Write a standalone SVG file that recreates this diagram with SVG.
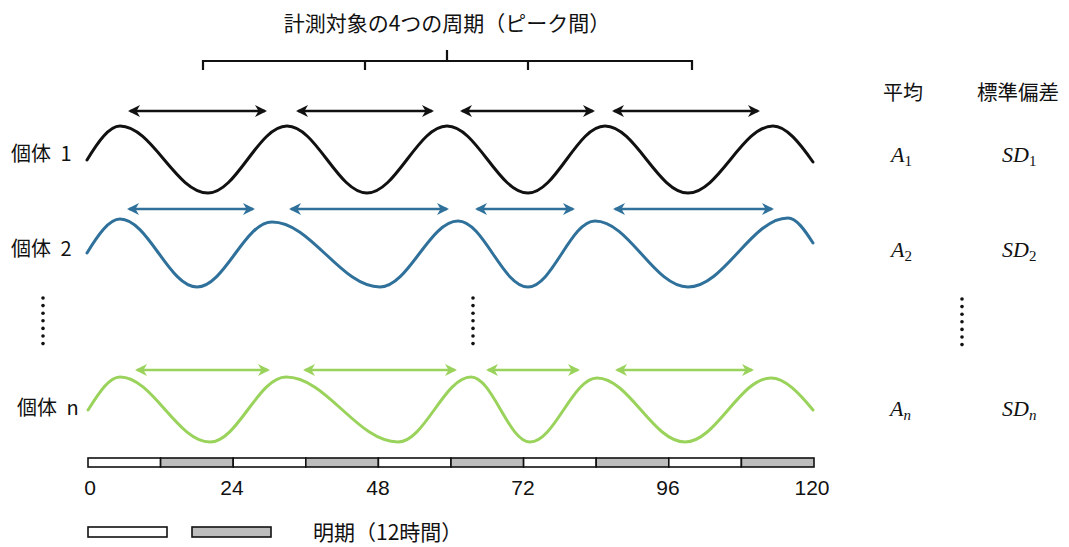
<svg xmlns="http://www.w3.org/2000/svg" width="1069" height="547" viewBox="0 0 1069 547">
<style>
.jp{font-family:"Noto Sans CJK JP","Liberation Sans",sans-serif;fill:#111}
.num{font-family:"Liberation Sans",Arial,sans-serif;font-size:21px;fill:#111;text-anchor:middle}
.math{font-family:"Liberation Serif","Times New Roman",serif;font-style:italic;font-size:22px;fill:#111}
.sub{font-size:15px;font-style:normal}
.subi{font-size:15px;font-style:italic}
.wave{fill:none;stroke-width:3;stroke-linecap:round}
.arr{stroke-width:2.4;fill:none}
.bar{stroke:#111;stroke-width:1.6}
.w{fill:#fff}
.g{fill:#bdbdbd}
.dot{fill:#111}
</style>
<defs>
<marker id="mk" viewBox="0 0 12 12" refX="10" refY="6" markerWidth="12" markerHeight="12" markerUnits="userSpaceOnUse" orient="auto-start-reverse"><path d="M0,0 L12,6 L0,12 L3.5,6 z" fill="#111"/></marker>
<marker id="mb" viewBox="0 0 12 12" refX="10" refY="6" markerWidth="12" markerHeight="12" markerUnits="userSpaceOnUse" orient="auto-start-reverse"><path d="M0,0 L12,6 L0,12 L3.5,6 z" fill="#2f719b"/></marker>
<marker id="mg" viewBox="0 0 12 12" refX="10" refY="6" markerWidth="12" markerHeight="12" markerUnits="userSpaceOnUse" orient="auto-start-reverse"><path d="M0,0 L12,6 L0,12 L3.5,6 z" fill="#9ad35b"/></marker>
</defs>

<g id="title">
<text class="jp" x="447" y="31" font-size="21" text-anchor="middle">計測対象の4つの周期（ピーク間）</text>
<path d="M447,50 V61 M203,70 V61 H692 V70 M365,61 V70 M528,61 V70" fill="none" stroke="#111" stroke-width="2.2"/>
</g>

<g id="labels">
<text class="jp" x="11" y="161" font-size="20">個体 <tspan dx="5">1</tspan></text>
<text class="jp" x="11" y="256" font-size="20">個体 <tspan dx="5">2</tspan></text>
<text class="jp" x="17" y="415" font-size="20">個体 <tspan dx="5">n</tspan></text>
<text class="jp" x="883" y="100" font-size="20">平均</text>
<text class="jp" x="977" y="100" font-size="20.5">標準偏差</text>
</g>

<g id="stats">
<text class="math" x="891" y="162">A<tspan class="sub" dy="4">1</tspan></text>
<text class="math" x="1002" y="162">SD<tspan class="sub" dy="4">1</tspan></text>
<text class="math" x="891" y="257">A<tspan class="sub" dy="4">2</tspan></text>
<text class="math" x="1002" y="257">SD<tspan class="sub" dy="4">2</tspan></text>
<text class="math" x="890" y="416">A<tspan class="subi" dy="4">n</tspan></text>
<text class="math" x="1002" y="416">SD<tspan class="subi" dy="4">n</tspan></text>
</g>

<g id="ellipsis">
<g class="dot">
<circle cx="43" cy="298" r="1.8"/><circle cx="43" cy="305.6" r="1.8"/><circle cx="43" cy="313.2" r="1.8"/><circle cx="43" cy="320.8" r="1.8"/><circle cx="43" cy="328.4" r="1.8"/><circle cx="43" cy="336" r="1.8"/><circle cx="43" cy="343.6" r="1.8"/>
<circle cx="473" cy="298" r="1.8"/><circle cx="473" cy="305.6" r="1.8"/><circle cx="473" cy="313.2" r="1.8"/><circle cx="473" cy="320.8" r="1.8"/><circle cx="473" cy="328.4" r="1.8"/><circle cx="473" cy="336" r="1.8"/><circle cx="473" cy="343.6" r="1.8"/>
<circle cx="962" cy="299" r="1.8"/><circle cx="962" cy="306.6" r="1.8"/><circle cx="962" cy="314.2" r="1.8"/><circle cx="962" cy="321.8" r="1.8"/><circle cx="962" cy="329.4" r="1.8"/><circle cx="962" cy="337" r="1.8"/><circle cx="962" cy="344.6" r="1.8"/>
</g>
</g>

<g id="wave1">
<path class="wave" stroke="#111" d="M87,160 C98,142 109,126 120,126 C152,126 176,193 208,193 C236.8,193 258.2,126 287,126 C316.1,126 337.9,193 367,193 C396.1,193 417.9,126 447,126 C476.5,126 498.5,193 528,193 C556,193 577,126 605,126 C635.2,126 657.8,193 688,193 C718.9,193 742.1,126 773,126 C786.3,126 799.7,143 813,162"/>
</g>
<g id="wave2">
<path class="wave" stroke="#2f719b" d="M87,253 C98,235 109,219 120,219 C148,219 169,287 197,287 C224.3,287 244.7,222 272,222 C311.3,222 340.7,287 380,287 C408.4,287 429.6,221 458,221 C483.5,221 502.5,287 528,287 C552.4,287 570.6,221 595,221 C628.9,221 654.1,287 688,287 C724.4,287 751.6,218 788,218 C796.3,218 804.7,230 813,243"/>
</g>
<g id="waven">
<path class="wave" stroke="#9ad35b" d="M88,410 C99,393 109,377 120,377 C152.8,377 177.2,442 210,442 C237.7,442 258.3,377 286,377 C326.8,377 357.2,442 398,442 C424.6,442 444.4,377 471,377 C492.5,377 508.5,442 530,442 C554.4,442 572.6,378 597,378 C629,378 653,442 685,442 C716.3,442 739.7,378 771,378 C785,378 799,393 813,410"/>
</g>

<g id="connectors">
<g class="arr" stroke="#111" marker-start="url(#mk)" marker-end="url(#mk)">
<line x1="130" y1="111" x2="265" y2="111"/>
<line x1="298" y1="111" x2="432" y2="111"/>
<line x1="462" y1="111" x2="593" y2="111"/>
<line x1="614" y1="111" x2="758" y2="111"/>
</g>
<g class="arr" stroke="#2f719b" marker-start="url(#mb)" marker-end="url(#mb)">
<line x1="129" y1="209" x2="253" y2="209"/>
<line x1="291" y1="209" x2="447" y2="209"/>
<line x1="477" y1="209" x2="573" y2="209"/>
<line x1="615" y1="209" x2="772" y2="209"/>
</g>
<g class="arr" stroke="#9ad35b" marker-start="url(#mg)" marker-end="url(#mg)">
<line x1="137" y1="370" x2="268" y2="370"/>
<line x1="305" y1="370" x2="455" y2="370"/>
<line x1="488" y1="370" x2="578" y2="370"/>
<line x1="617" y1="370" x2="752" y2="370"/>
</g>
</g>

<g id="timebar">
<rect class="bar w" x="88" y="458" width="72.6" height="9"/>
<rect class="bar g" x="160.6" y="458" width="72.6" height="9"/>
<rect class="bar w" x="233.2" y="458" width="72.6" height="9"/>
<rect class="bar g" x="305.8" y="458" width="72.6" height="9"/>
<rect class="bar w" x="378.4" y="458" width="72.6" height="9"/>
<rect class="bar g" x="451" y="458" width="72.6" height="9"/>
<rect class="bar w" x="523.6" y="458" width="72.6" height="9"/>
<rect class="bar g" x="596.2" y="458" width="72.6" height="9"/>
<rect class="bar w" x="668.8" y="458" width="72.6" height="9"/>
<rect class="bar g" x="741.4" y="458" width="72.6" height="9"/>
</g>

<g id="axis">
<text class="num" x="90" y="495">0</text>
<text class="num" x="232" y="495">24</text>
<text class="num" x="378" y="495">48</text>
<text class="num" x="523" y="495">72</text>
<text class="num" x="668" y="495">96</text>
<text class="num" x="812" y="495">120</text>
</g>

<g id="legend">
<rect class="bar w" x="88" y="527" width="79" height="10"/>
<rect class="bar g" x="192" y="527" width="79" height="10"/>
<text class="jp" x="313" y="540" font-size="21">明期（12時間）</text>
</g>
</svg>
